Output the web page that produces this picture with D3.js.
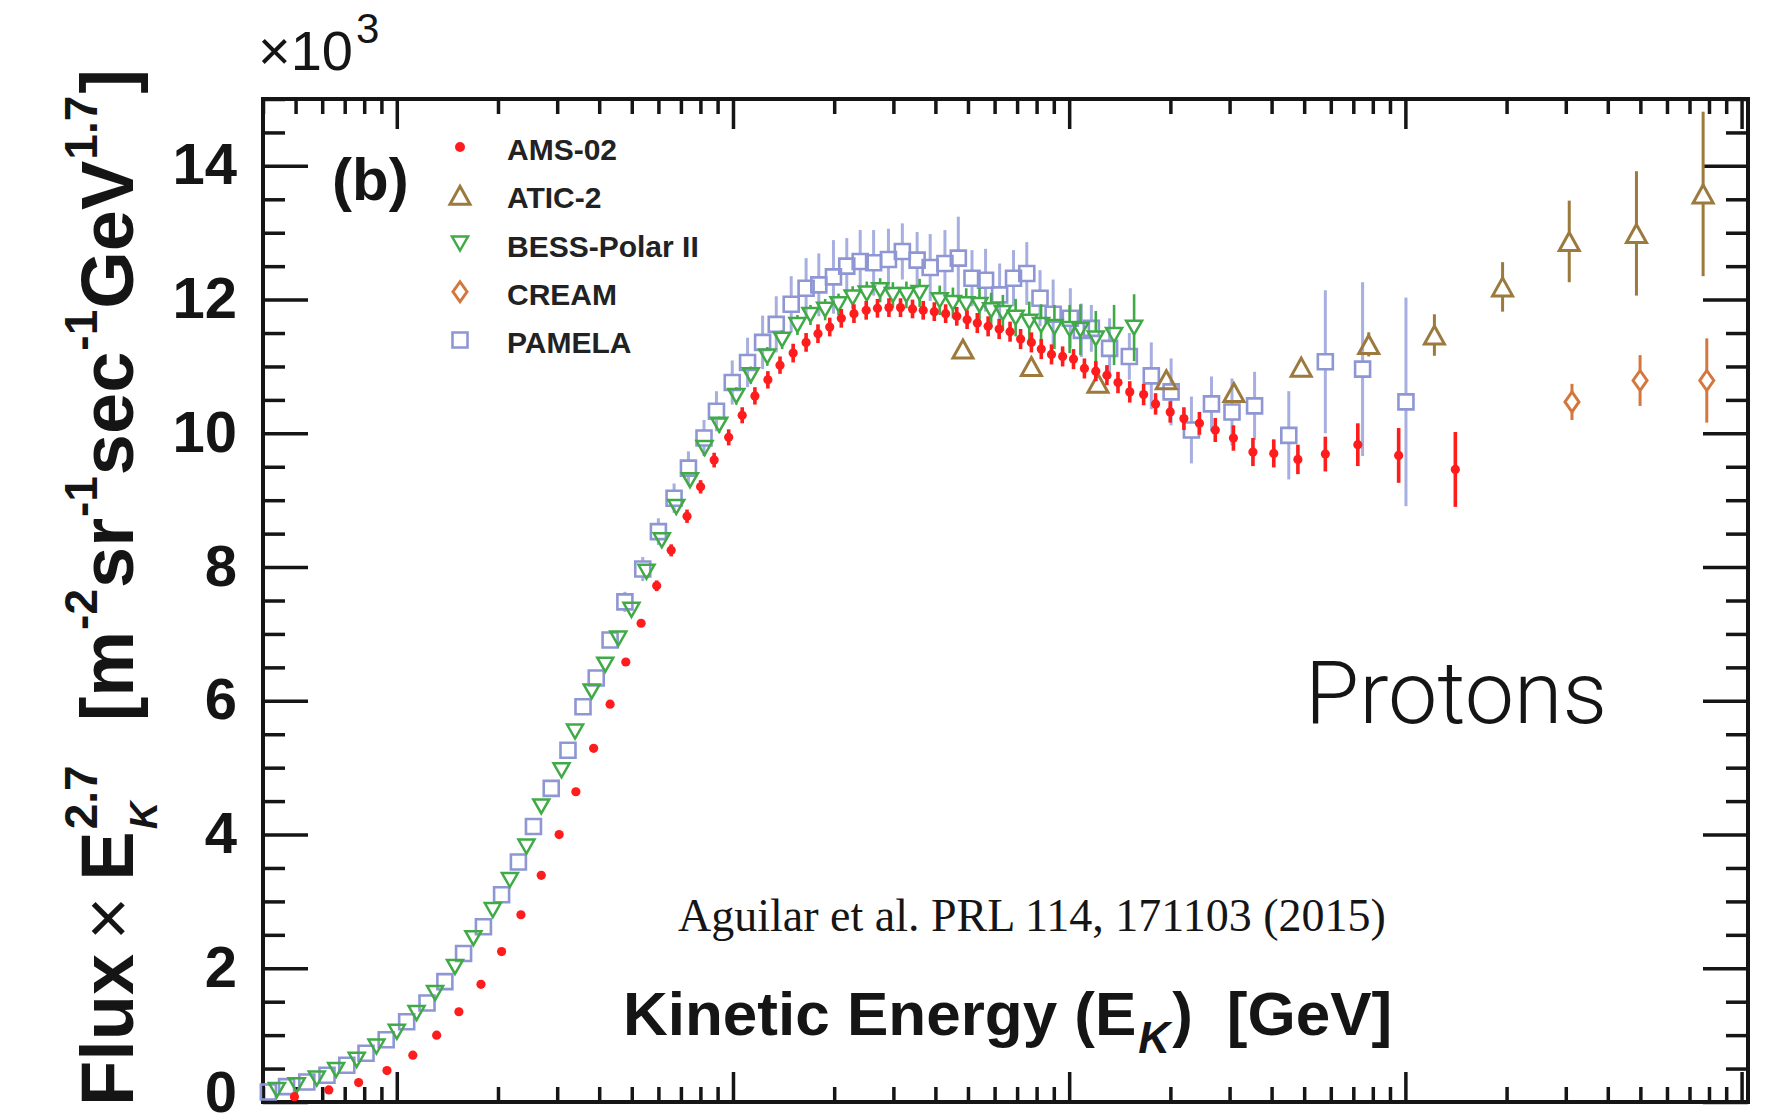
<!DOCTYPE html>
<html>
<head>
<meta charset="utf-8">
<script src="https://cdn.jsdelivr.net/npm/d3@7"></script>
<style>
  html, body { margin: 0; padding: 0; background: #fff; }
  svg { display: block; }
</style>
</head>
<body>
<svg id="chart" width="1779" height="1115"></svg>
<script>
// ---------------- DATA (kinetic energy in GeV, flux x E^2.7 in units of 10^3) ----------------
const amsE = [0.496, 0.628, 0.77, 0.935, 1.116, 1.314, 1.53, 1.78, 2.05, 2.34, 2.69, 3.04, 3.41, 3.85, 4.31, 4.80, 5.33, 5.93, 6.55, 7.30, 8.01, 8.79, 9.71, 10.65, 11.62, 12.7, 13.8, 15.1, 16.5, 17.9, 19.4, 21.0, 22.9, 24.9, 26.9, 29.1, 31.5, 34.2, 36.8, 39.7, 42.9, 46.3, 49.7, 53.3, 57.4, 61.9, 66.7, 71.7, 77.2, 82.6, 88.6, 95.6, 103, 111, 120, 129.5, 139.7, 151.4, 166.5, 180.7, 199.8, 219.4, 244, 272, 308, 352, 406, 479, 578, 722, 955, 1408];
const amsF = [0.08, 0.18, 0.29, 0.47, 0.70, 1.00, 1.35, 1.76, 2.25, 2.80, 3.39, 4.00, 4.64, 5.29, 5.95, 6.58, 7.16, 7.72, 8.25, 8.76, 9.20, 9.60, 9.94, 10.27, 10.56, 10.80, 11.02, 11.20, 11.36, 11.49, 11.59, 11.72, 11.79, 11.84, 11.87, 11.88, 11.88, 11.86, 11.84, 11.82, 11.79, 11.75, 11.70, 11.65, 11.60, 11.56, 11.52, 11.41, 11.36, 11.26, 11.18, 11.15, 11.11, 10.97, 10.93, 10.87, 10.76, 10.62, 10.58, 10.44, 10.32, 10.22, 10.15, 10.05, 9.93, 9.72, 9.70, 9.61, 9.69, 9.83, 9.67, 9.46];
const amsErr = [0, 0, 0, 0, 0, 0, 0, 0, 0, 0, 0, 0, 0, 0, 0, 0, 0, 0.08, 0.09, 0.10, 0.10, 0.11, 0.12, 0.12, 0.13, 0.13, 0.13, 0.14, 0.14, 0.14, 0.14, 0.14, 0.14, 0.14, 0.14, 0.14, 0.14, 0.14, 0.14, 0.14, 0.14, 0.14, 0.14, 0.15, 0.15, 0.15, 0.15, 0.15, 0.15, 0.15, 0.15, 0.15, 0.15, 0.15, 0.15, 0.15, 0.16, 0.16, 0.16, 0.16, 0.16, 0.17, 0.17, 0.18, 0.19, 0.21, 0.21, 0.22, 0.26, 0.32, 0.41, 0.56];

const aticE = [48.3, 77.2, 121.8, 194.5, 309, 490, 778, 1220, 1946, 3072, 4868, 7685];
const aticF = [11.26, 11.00, 10.75, 10.80, 10.61, 10.99, 11.33, 11.47, 12.19, 12.87, 12.99, 13.58];
const aticErr = [0.05, 0.05, 0.06, 0.07, 0.09, 0.11, 0.18, 0.31, 0.37, 0.61, 0.93, 1.23];

const bessE = [0.44, 0.504, 0.578, 0.66, 0.76, 0.87, 1.0, 1.145, 1.30, 1.49, 1.69, 1.93, 2.17, 2.43, 2.69, 3.09, 3.39, 3.80, 4.17, 4.56, 4.99, 5.53, 6.14, 6.78, 7.45, 8.23, 9.10, 10.23, 11.3, 12.65, 14.0, 15.55, 17.0, 18.8, 20.6, 22.7, 25.0, 27.4, 29.9, 32.8, 35.9, 41.2, 45.1, 49.4, 54.1, 58.6, 63.5, 69.3, 76.1, 82.5, 90.4, 100.3, 108, 120, 136, 156];
const bessF = [0.18, 0.25, 0.35, 0.48, 0.63, 0.83, 1.05, 1.33, 1.63, 2.02, 2.45, 2.87, 3.32, 3.82, 4.42, 4.96, 5.54, 6.14, 6.54, 6.93, 7.36, 7.93, 8.40, 8.90, 9.30, 9.78, 10.13, 10.56, 10.87, 11.15, 11.40, 11.62, 11.77, 11.85, 11.93, 12.03, 12.09, 12.14, 12.07, 12.07, 12.10, 11.99, 11.95, 11.93, 11.92, 11.84, 11.80, 11.73, 11.67, 11.62, 11.59, 11.56, 11.55, 11.42, 11.47, 11.58];
const bessErr = [0.03, 0.03, 0.03, 0.03, 0.03, 0.03, 0.03, 0.03, 0.03, 0.03, 0.03, 0.03, 0.03, 0.03, 0.03, 0.03, 0.03, 0.05, 0.06, 0.07, 0.08, 0.09, 0.10, 0.10, 0.11, 0.12, 0.12, 0.13, 0.13, 0.14, 0.14, 0.15, 0.15, 0.16, 0.16, 0.17, 0.18, 0.18, 0.19, 0.20, 0.21, 0.22, 0.23, 0.24, 0.25, 0.26, 0.27, 0.28, 0.30, 0.31, 0.33, 0.36, 0.38, 0.41, 0.45, 0.50];

const creamE = [3130, 4990, 7880];
const creamF = [10.47, 10.79, 10.79];
const creamErr = [0.27, 0.38, 0.63];

const pamelaE = [0.415, 0.47, 0.54, 0.62, 0.71, 0.81, 0.93, 1.07, 1.23, 1.39, 1.58, 1.81, 2.05, 2.30, 2.55, 2.88, 3.23, 3.58, 3.92, 4.31, 4.77, 5.39, 6.00, 6.68, 7.37, 8.2, 8.93, 9.95, 11.05, 12.25, 13.45, 14.9, 16.5, 18.0, 19.9, 21.8, 23.9, 26.2, 29.0, 31.9, 35.3, 38.6, 42.7, 46.8, 51.4, 56.4, 62.1, 68.3, 74.8, 81.9, 89.6, 100.8, 108.7, 116.4, 131.9, 151, 175.5, 201, 231, 265, 305, 356, 450, 578, 746, 1004];
const pamelaF = [0.15, 0.23, 0.30, 0.40, 0.55, 0.73, 0.93, 1.20, 1.48, 1.80, 2.22, 2.62, 3.10, 3.59, 4.12, 4.69, 5.26, 5.91, 6.34, 6.91, 7.48, 7.97, 8.53, 9.03, 9.48, 9.93, 10.33, 10.76, 11.06, 11.36, 11.63, 11.93, 12.17, 12.22, 12.34, 12.50, 12.57, 12.55, 12.60, 12.72, 12.59, 12.48, 12.54, 12.62, 12.32, 12.29, 12.07, 12.32, 12.39, 12.02, 11.78, 11.72, 11.54, 11.57, 11.27, 11.15, 10.86, 10.62, 10.05, 10.44, 10.32, 10.41, 9.97, 11.07, 10.96, 10.47];
const pamelaErr = [0.03, 0.03, 0.03, 0.03, 0.03, 0.03, 0.03, 0.03, 0.03, 0.03, 0.03, 0.03, 0.03, 0.03, 0.03, 0.03, 0.03, 0.03, 0.10, 0.12, 0.15, 0.18, 0.20, 0.22, 0.25, 0.27, 0.30, 0.33, 0.37, 0.40, 0.42, 0.42, 0.45, 0.47, 0.55, 0.42, 0.47, 0.49, 0.46, 0.42, 0.42, 0.50, 0.50, 0.62, 0.42, 0.47, 0.47, 0.42, 0.47, 0.42, 0.52, 0.45, 0.40, 0.35, 0.45, 0.35, 0.50, 0.50, 0.50, 0.41, 0.50, 0.51, 0.66, 1.07, 1.30, 1.56];

const legendLabels = ["AMS-02", "ATIC-2", "BESS-Polar II", "CREAM", "PAMELA"];
const xMajorTicks = [1, 10, 100, 1000, 10000];
const yMajorTicks = [0, 2, 4, 6, 8, 10, 12, 14];
const yTickLabels = ["0", "2", "4", "6", "8", "10", "12", "14"];

// ---------------- LAYOUT ----------------
const svg = d3.select("#chart");
const L = 263, R = 1748, T = 99, B = 1102;
const x = d3.scaleLog().domain([0.4, 10450]).range([L, R]);
const y = d3.scaleLinear().domain([0, 15]).range([B, T]);

const SANS = "'Liberation Sans', Arial, Helvetica, sans-serif";
const INK = "#151515";

const col = {
  ams: "#ff1c1c",
  atic: "#9c7a3e",
  bess: "#3faa46",
  cream: "#d4773e",
  pamela: "#8e96d4",
  pamelaErr: "#a7aee0"
};

// marker shapes (relative path generators)
const shapes = {
  triUp: (w, h) => `M0,${-h/2}L${w/2},${h/2}L${-w/2},${h/2}Z`,
  triDown: (w, h) => `M0,${h/2}L${w/2},${-h/2}L${-w/2},${-h/2}Z`,
  square: (w, h) => `M${-w/2},${-h/2}H${w/2}V${h/2}H${-w/2}Z`,
  diamond: (w, h) => `M0,${-h/2}L${w/2},0L0,${h/2}L${-w/2},0Z`
};

// ---------------- AXES ----------------
const axes = svg.append("g");
const xMinor = x.ticks().filter(v => !xMajorTicks.includes(v));
const yMinor = d3.range(0, 15.001, 0.5).filter(v => !yMajorTicks.includes(v));

function styleAxis(g) {
  g.select(".domain").remove();
  g.selectAll(".tick line").attr("stroke", INK).attr("stroke-width", 3.5);
}
axes.append("g").attr("transform", `translate(0,${B})`)
  .call(d3.axisBottom(x).tickValues(xMajorTicks).tickSize(-30).tickFormat(""))
  .call(styleAxis);
axes.append("g").attr("transform", `translate(0,${B})`)
  .call(d3.axisBottom(x).tickValues(xMinor).tickSize(-15).tickFormat(""))
  .call(styleAxis);
axes.append("g").attr("transform", `translate(0,${T})`)
  .call(d3.axisTop(x).tickValues(xMajorTicks).tickSize(-30).tickFormat(""))
  .call(styleAxis);
axes.append("g").attr("transform", `translate(0,${T})`)
  .call(d3.axisTop(x).tickValues(xMinor).tickSize(-15).tickFormat(""))
  .call(styleAxis);

const leftAxis = axes.append("g").attr("transform", `translate(${L},0)`)
  .call(d3.axisLeft(y).tickValues(yMajorTicks).tickSize(-45).tickPadding(26)
        .tickFormat((d, i) => yTickLabels[i]))
  .call(styleAxis);
leftAxis.selectAll(".tick text")
  .attr("font-family", SANS).attr("font-weight", "bold")
  .attr("font-size", 58).attr("fill", INK)
  .attr("dy", d => d === 0 ? "0.16em" : "0.31em");
axes.append("g").attr("transform", `translate(${L},0)`)
  .call(d3.axisLeft(y).tickValues(yMinor).tickSize(-22).tickFormat(""))
  .call(styleAxis);
axes.append("g").attr("transform", `translate(${R},0)`)
  .call(d3.axisRight(y).tickValues(yMajorTicks).tickSize(-45).tickFormat(""))
  .call(styleAxis);
axes.append("g").attr("transform", `translate(${R},0)`)
  .call(d3.axisRight(y).tickValues(yMinor).tickSize(-22).tickFormat(""))
  .call(styleAxis);

svg.append("rect").attr("x", L).attr("y", T).attr("width", R - L).attr("height", B - T)
  .attr("fill", "none").attr("stroke", INK).attr("stroke-width", 4);

// ---------------- SERIES ----------------
const plot = svg.append("g");

function drawSeries(E, F, ERR, opt) {
  const data = E.map((e, i) => ({ e, f: F[i], err: ERR[i] }));
  const g = plot.append("g");
  // error bars (with a gap at hollow markers)
  data.forEach(d => {
    if (!(d.err > 0)) return;
    const cx = x(d.e), cy = y(d.f);
    const y1 = y(d.f + d.err), y2 = y(d.f - d.err);
    const gap = opt.gap || 0;
    const segs = gap > 0 ? [[y1, cy - gap], [cy + gap, y2]] : [[y1, y2]];
    segs.forEach(([a, b]) => {
      if (b - a > 0.5) {
        g.append("line").attr("x1", cx).attr("x2", cx).attr("y1", a).attr("y2", b)
          .attr("stroke", opt.errColor || opt.color).attr("stroke-width", opt.errWidth || 3);
      }
    });
  });
  if (opt.dot) {
    g.selectAll("circle").data(data).join("circle")
      .attr("cx", d => x(d.e)).attr("cy", d => y(d.f)).attr("r", opt.dot)
      .attr("fill", opt.color);
  } else {
    g.selectAll("path.m").data(data).join("path").attr("class", "m")
      .attr("transform", d => `translate(${x(d.e)},${y(d.f)})`)
      .attr("d", shapes[opt.shape](opt.w, opt.h))
      .attr("fill", "none").attr("stroke", opt.color).attr("stroke-width", opt.sw || 2.5)
      .attr("stroke-linejoin", "miter");
  }
}

const seriesOpts = {
  pamela: { shape: "square", w: 15, h: 15, color: col.pamela, errColor: col.pamelaErr, gap: 7.5, sw: 2.6, errWidth: 3 },
  bess: { shape: "triDown", w: 16, h: 14, color: col.bess, gap: 7, sw: 2.5, errWidth: 2.6 },
  atic: { shape: "triUp", w: 20, h: 18, color: col.atic, gap: 9, sw: 3, errWidth: 3 },
  cream: { shape: "diamond", w: 14, h: 20, color: col.cream, gap: 10, sw: 3, errWidth: 3 },
  ams: { dot: 4.6, color: col.ams, errWidth: 3.6 }
};

drawSeries(pamelaE, pamelaF, pamelaErr, seriesOpts.pamela);
drawSeries(bessE, bessF, bessErr, seriesOpts.bess);
drawSeries(aticE, aticF, aticErr, seriesOpts.atic);
drawSeries(creamE, creamF, creamErr, seriesOpts.cream);
drawSeries(amsE, amsF, amsErr, seriesOpts.ams);

// ---------------- LEGEND ----------------
const legendKeys = ["ams", "atic", "bess", "cream", "pamela"];
const legend = svg.append("g");
const rowY = d3.scalePoint().domain(legendLabels).range([160, 353]);
legendLabels.forEach((lab, i) => {
  const by = rowY(lab);
  const key = legendKeys[i];
  const o = seriesOpts[key];
  const my = by - 13;
  if (o.dot) {
    legend.append("circle").attr("cx", 460).attr("cy", my).attr("r", 5).attr("fill", o.color);
  } else {
    legend.append("path").attr("transform", `translate(460,${my})`)
      .attr("d", shapes[o.shape](o.w, o.h))
      .attr("fill", "none").attr("stroke", o.color).attr("stroke-width", o.sw);
  }
  legend.append("text").attr("x", 507).attr("y", by)
    .attr("font-family", SANS).attr("font-weight", "bold").attr("font-size", 30)
    .attr("fill", "#222").text(lab);
});

// ---------------- TEXT ----------------
function rich(parent, x0, y0, segs) {
  let cx = x0, prevStart = x0, prevW = 0;
  segs.forEach(s => {
    const sx = s.stack ? prevStart : cx + (s.dx || 0);
    const t = parent.append("text")
      .attr("x", sx).attr("y", y0 + (s.shift || 0))
      .attr("font-family", s.family || SANS)
      .attr("font-weight", s.weight || "bold")
      .attr("font-style", s.style || "normal")
      .attr("font-size", s.size)
      .attr("fill", s.fill || INK)
      .text(s.t);
    const w = t.node().getComputedTextLength();
    if (s.stack) {
      cx = prevStart + Math.max(prevW, w);
    } else {
      prevStart = sx; prevW = w; cx = sx + w;
    }
  });
}

// x10^3 multiplier
rich(svg, 258, 70, [
  { t: "×10", size: 56, weight: "normal" },
  { t: "3", size: 42, weight: "normal", shift: -27, dx: 3 }
]);

// (b)
svg.append("text").attr("x", 332).attr("y", 200)
  .attr("font-family", SANS).attr("font-weight", "bold").attr("font-size", 60)
  .attr("fill", INK).text("(b)");

// Protons
svg.append("text").attr("x", 1305).attr("y", 723)
  .attr("font-family", "Roboto, 'Liberation Sans', sans-serif").attr("font-weight", 300)
  .attr("font-size", 88).attr("fill", INK).text("Protons");

// citation
svg.append("text").attr("x", 678).attr("y", 931)
  .attr("font-family", "'Liberation Serif', 'Times New Roman', serif")
  .attr("font-size", 46).attr("fill", INK).text("Aguilar et al. PRL 114, 171103 (2015)");

// x-axis title
rich(svg, 623, 1035, [
  { t: "Kinetic Energy (E", size: 62 },
  { t: "K", size: 44, style: "italic", shift: 18, dx: 2 },
  { t: ")", size: 62, dx: 2 },
  { t: "[GeV]", size: 62, dx: 34 }
]);

// y-axis title (rotated)
const yt = svg.append("g").attr("transform", "translate(133,1106) rotate(-90)");
const SUP = -36;
rich(yt, 0, 0, [
  { t: "Flux", size: 74 },
  { t: "×", size: 74, weight: "normal", dx: 14 },
  { t: "E", size: 74, dx: 16 },
  { t: "2.7", size: 46, shift: SUP, dx: 2 },
  { t: "K", size: 38, style: "italic", shift: 24, stack: true },
  { t: "[m", size: 74, dx: 44 },
  { t: "-2", size: 46, shift: SUP, dx: 1 },
  { t: "sr", size: 74, dx: 1 },
  { t: "-1", size: 46, shift: SUP, dx: 1 },
  { t: "sec", size: 74, dx: 1 },
  { t: "-1", size: 46, shift: SUP, dx: 1 },
  { t: "GeV", size: 74, dx: 1 },
  { t: "1.7", size: 46, shift: SUP, dx: 1 },
  { t: "]", size: 74, dx: 2 }
]);
</script>
</body>
</html>
